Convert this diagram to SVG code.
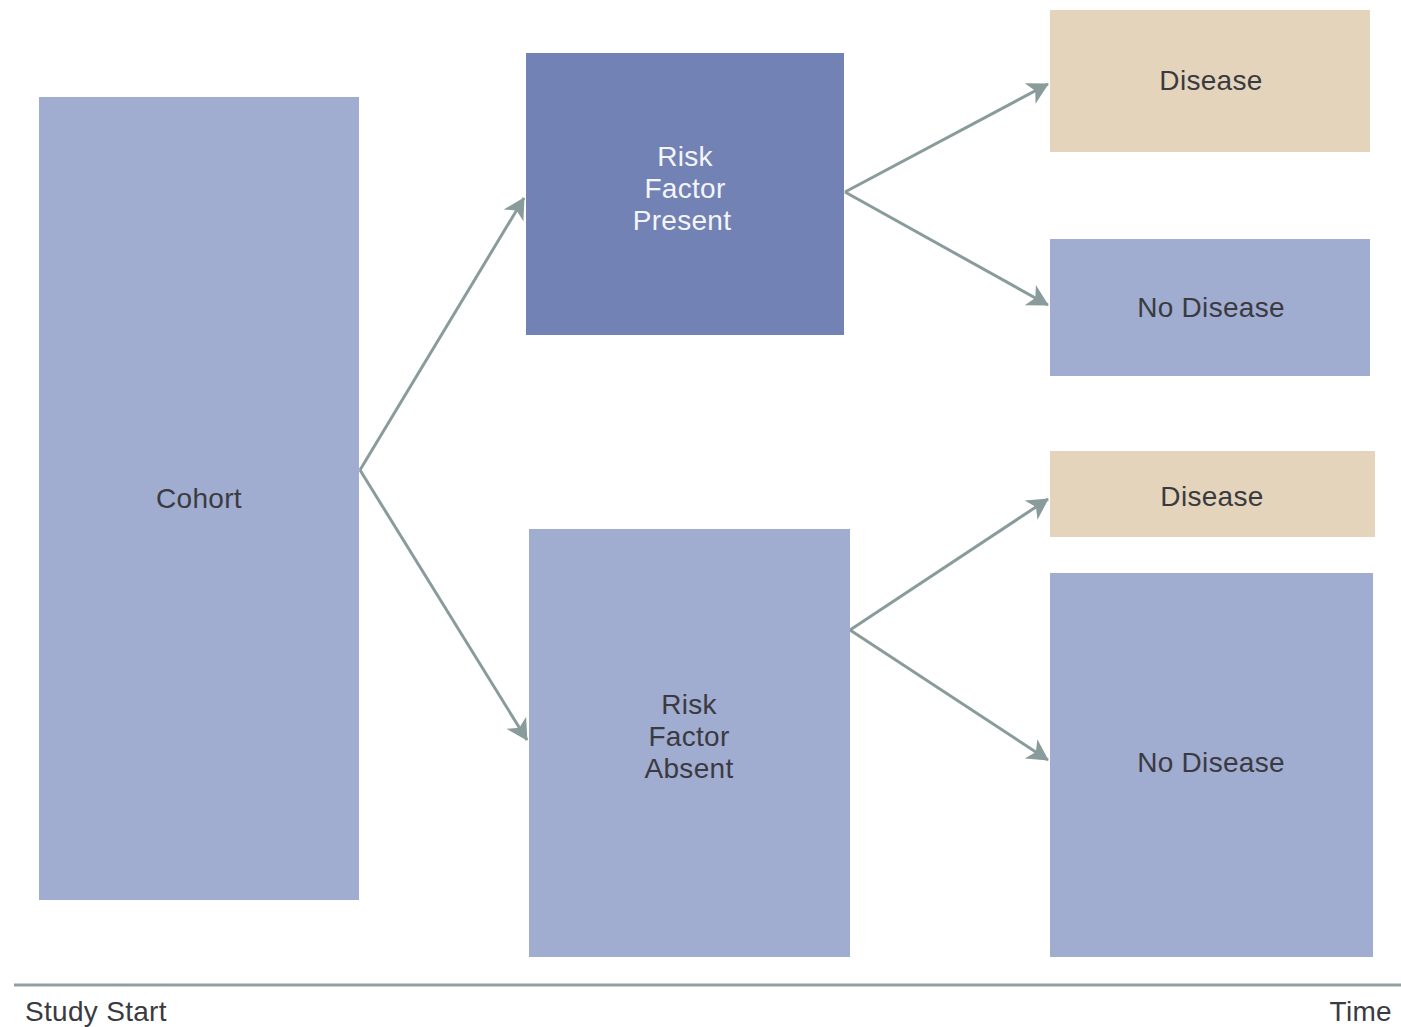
<svg xmlns="http://www.w3.org/2000/svg" width="1401" height="1027" viewBox="0 0 1401 1027">
<style>
.box{fill:#a1acd1}
.dark{fill:#7282b4}
.tan{fill:#e5d4bc}
.lbl{font-family:"Liberation Sans",Arial,sans-serif;font-size:28px;fill:#3a3b40;text-anchor:middle;dominant-baseline:central;letter-spacing:0.3px}
.wl{fill:#f4f5fa}
.conn{stroke:#8a9b9b;stroke-width:3;fill:none;marker-end:url(#ah)}
.axis{font-family:"Liberation Sans",Arial,sans-serif;font-size:28px;fill:#3a3b40;letter-spacing:0.3px}
</style>
<defs>
<marker id="ah" viewBox="0 0 10 10" refX="9" refY="5" markerWidth="8" markerHeight="8" markerUnits="userSpaceOnUse" orient="auto" style="overflow:visible">
<path d="M-1,-1 L10,5 L-1,11 L2,5 Z" transform="scale(2.4) translate(-5.8,-2.9)" fill="#8a9b9b"/>
</marker>
</defs>
<rect width="1401" height="1027" fill="#fff"/>
<g id="connectors">
<line class="conn" x1="360" y1="470" x2="524" y2="198"/>
<line class="conn" x1="360" y1="470" x2="527" y2="740"/>
<line class="conn" x1="845" y1="192" x2="1048" y2="84"/>
<line class="conn" x1="845" y1="192" x2="1048" y2="305"/>
<line class="conn" x1="850" y1="630" x2="1048" y2="499"/>
<line class="conn" x1="850" y1="630" x2="1048" y2="760"/>
</g>
<g id="cohort"><rect class="box" x="39" y="97" width="320" height="803"/><text class="lbl" x="199" y="498">Cohort</text></g>
<g id="rf-present"><rect class="dark" x="526" y="53" width="318" height="282"/><text class="lbl wl" x="685" y="156">Risk</text><text class="lbl wl" x="685" y="188">Factor</text><text class="lbl wl" x="682" y="220">Present</text></g>
<g id="rf-absent"><rect class="box" x="529" y="529" width="321" height="428"/><text class="lbl" x="689" y="704">Risk</text><text class="lbl" x="689" y="736">Factor</text><text class="lbl" x="689" y="768">Absent</text></g>
<g id="disease-1"><rect class="tan" x="1050" y="10" width="320" height="142"/><text class="lbl" x="1211" y="80">Disease</text></g>
<g id="nodisease-1"><rect class="box" x="1050" y="239" width="320" height="137"/><text class="lbl" x="1211" y="307">No Disease</text></g>
<g id="disease-2"><rect class="tan" x="1050" y="451" width="325" height="86"/><text class="lbl" x="1212" y="496">Disease</text></g>
<g id="nodisease-2"><rect class="box" x="1050" y="573" width="323" height="384"/><text class="lbl" x="1211" y="762">No Disease</text></g>
<g id="timeline">
<line x1="14" y1="985" x2="1401" y2="985" stroke="#8fa0a0" stroke-width="3"/>
<text class="axis" x="25" y="1021">Study Start</text>
<text class="axis" x="1392" y="1021" text-anchor="end">Time</text>
</g>
</svg>
